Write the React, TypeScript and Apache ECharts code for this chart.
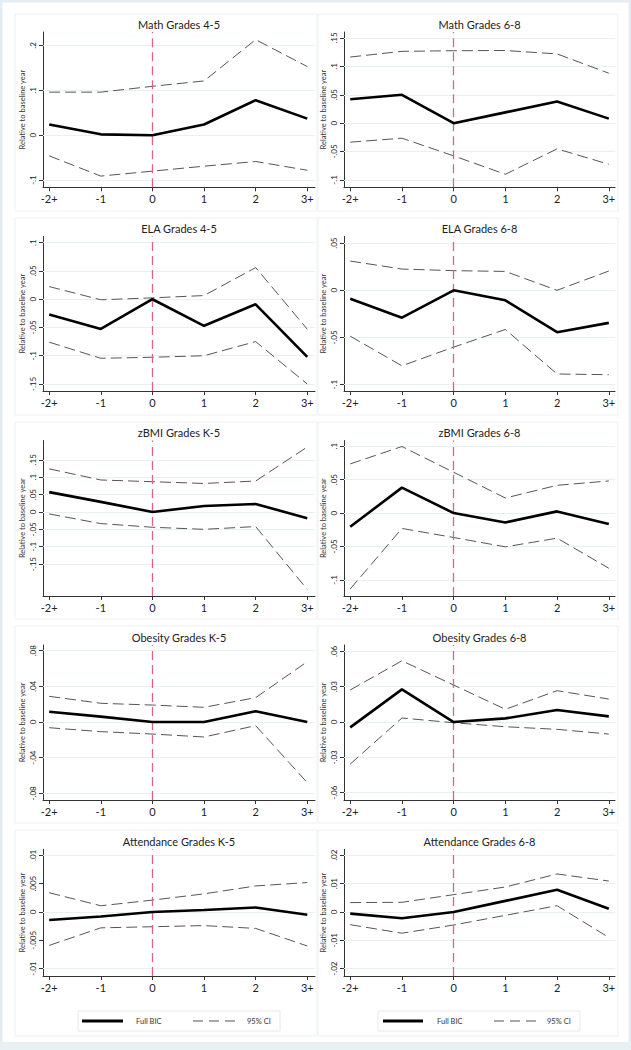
import React, { useEffect, useRef } from 'react';
import * as echarts from 'echarts';

const categories = ['-2+', '-1', '0', '1', '2', '3+'];
const baselineIndex = 2;

const titles = [
  'Math Grades 4-5', 'Math Grades 6-8',
  'ELA Grades 4-5', 'ELA Grades 6-8',
  'zBMI Grades K-5', 'zBMI Grades 6-8',
  'Obesity Grades K-5', 'Obesity Grades 6-8',
  'Attendance Grades K-5', 'Attendance Grades 6-8',
];

// Full BIC estimates
const mathG45Est = [0.024, 0.002, 0, 0.024, 0.078, 0.037];
const mathG68Est = [0.042, 0.05, 0, 0.019, 0.038, 0.008];
const elaG45Est = [-0.027, -0.0525, 0, -0.047, -0.009, -0.102];
const elaG68Est = [-0.009, -0.029, 0, -0.0106, -0.0444, -0.0345];
const zbmiK5Est = [0.057, 0.029, 0, 0.017, 0.023, -0.018];
const zbmiG68Est = [-0.0205, 0.038, 0, -0.014, 0.0025, -0.0165];
const obesK5Est = [0.0116, 0.006, 0, 0, 0.012, 0];
const obesG68Est = [-0.0045, 0.0277, 0, 0.0031, 0.0102, 0.0048];
const attK5Est = [-0.0014, -0.0008, 0, 0.00035, 0.0008, -0.0005];
const attG68Est = [-0.0006, -0.0022, 0, 0.0039, 0.0078, 0.0011];

// 95% CI upper bounds
const mathG45Hi = [0.096, 0.096, 0.109, 0.121, 0.213, 0.153];
const mathG68Hi = [0.1165, 0.1265, 0.1276, 0.128, 0.122, 0.088];
const elaG45Hi = [0.0224, -0.001, 0.0024, 0.0065, 0.056, -0.053];
const elaG68Hi = [0.031, 0.0225, 0.0208, 0.02, 0, 0.0204];
const zbmiK5Hi = [0.124, 0.092, 0.087, 0.082, 0.089, 0.187];
const zbmiG68Hi = [0.0735, 0.0995, 0.061, 0.0225, 0.0415, 0.048];
const obesK5Hi = [0.0288, 0.021, 0.019, 0.0165, 0.0273, 0.0677];
const obesG68Hi = [0.0272, 0.052, 0.0314, 0.0108, 0.0266, 0.0195];
const attK5Hi = [0.0034, 0.0011, 0.0021, 0.0032, 0.0046, 0.0052];
const attG68Hi = [0.0033, 0.0034, 0.0061, 0.0088, 0.0134, 0.0109];

// 95% CI lower bounds
const mathG45Lo = [-0.046, -0.091, -0.08, -0.069, -0.0585, -0.078];
const mathG68Lo = [-0.0335, -0.0265, -0.0576, -0.09, -0.0453, -0.0724];
const elaG45Lo = [-0.076, -0.1045, -0.1027, -0.1, -0.075, -0.15];
const elaG68Lo = [-0.0486, -0.08, -0.0602, -0.0415, -0.0887, -0.0894];
const zbmiK5Lo = [-0.0057, -0.0335, -0.044, -0.05, -0.042, -0.223];
const zbmiG68Lo = [-0.1135, -0.023, -0.0365, -0.0505, -0.0375, -0.0825];
const obesK5Lo = [-0.0064, -0.0108, -0.0135, -0.0168, -0.0041, -0.068];
const obesG68Lo = [-0.0357, 0.0034, -0.0006, -0.004, -0.0062, -0.0102];
const attK5Lo = [-0.0059, -0.0028, -0.0026, -0.0024, -0.0029, -0.006];
const attG68Lo = [-0.0045, -0.0075, -0.0046, -0.0012, 0.0022, -0.009];

// y-axis tick values
const mathG45Ticks = [-0.1, 0, 0.1, 0.2];
const mathG68Ticks = [-0.1, -0.05, 0, 0.05, 0.1, 0.15];
const elaG45Ticks = [-0.15, -0.1, -0.05, 0, 0.05, 0.1];
const elaG68Ticks = [-0.1, -0.05, 0, 0.05];
const zbmiK5Ticks = [-0.15, -0.1, -0.05, 0, 0.05, 0.1, 0.15];
const zbmiG68Ticks = [-0.1, -0.05, 0, 0.05, 0.1];
const obesK5Ticks = [-0.08, -0.04, 0, 0.04, 0.08];
const obesG68Ticks = [-0.06, -0.03, 0, 0.03, 0.06];
const attK5Ticks = [-0.01, -0.005, 0, 0.005, 0.01];
const attG68Ticks = [-0.02, -0.01, 0, 0.01, 0.02];

const estimates = [mathG45Est, mathG68Est, elaG45Est, elaG68Est, zbmiK5Est, zbmiG68Est, obesK5Est, obesG68Est, attK5Est, attG68Est];
const uppers = [mathG45Hi, mathG68Hi, elaG45Hi, elaG68Hi, zbmiK5Hi, zbmiG68Hi, obesK5Hi, obesG68Hi, attK5Hi, attG68Hi];
const lowers = [mathG45Lo, mathG68Lo, elaG45Lo, elaG68Lo, zbmiK5Lo, zbmiG68Lo, obesK5Lo, obesG68Lo, attK5Lo, attG68Lo];
const yTicks = [mathG45Ticks, mathG68Ticks, elaG45Ticks, elaG68Ticks, zbmiK5Ticks, zbmiG68Ticks, obesK5Ticks, obesG68Ticks, attK5Ticks, attG68Ticks];

const yTitle = 'Relative to baseline year';
const legendEst = 'Full BIC';
const legendCI = '95% CI';

// layout (not data)
const yRanges: [number, number][] = [
  [-0.116, 0.23], [-0.113, 0.1606],
  [-0.1624, 0.111], [-0.1067, 0.057],
  [-0.2418, 0.2056], [-0.124, 0.1085],
  [-0.0875, 0.0864], [-0.0662, 0.0654],
  [-0.0113, 0.01107], [-0.0226, 0.0221],
];
const rowTop = [32, 236.5, 440.5, 645, 849.3];
const rowBottom = [187.3, 391, 596, 800, 976];
const colLeft = [43, 344];
const colWidth = [272, 271];
const xMin = -0.12;
const xMax = [5.15, 5.12];

const FONT = 'Lato, "Open Sans", sans-serif';

function fmtTick(v: number): string {
  let s = String(Number(v.toPrecision(6)));
  s = s.replace(/^(-?)0\./, '$1.');
  return s;
}

export default function App() {
  const ref = useRef<HTMLDivElement>(null);
  useEffect(() => {
    document.body.style.margin = '0';
    if (!ref.current) return;
    const chart = echarts.init(ref.current, undefined, { renderer: 'svg' });

    const grids: any[] = [];
    const xAxes: any[] = [];
    const yAxes: any[] = [];
    const series: any[] = [];
    const graphics: any[] = [];

    // outer frame
    graphics.push({
      type: 'rect', shape: { x: 1, y: 1, width: 629, height: 1046 },
      style: { fill: 'none', stroke: '#e4edf2', lineWidth: 3 }, z: 0,
    });
    graphics.push({
      type: 'rect', shape: { x: 0, y: 1042, width: 631, height: 8 },
      style: { fill: '#e9f1f5' }, z: 0,
    });

    const boxTops = [14, 218, 422, 626, 830];
    const boxBottoms = [211, 415, 619, 823, 1036];
    const boxX = [[15, 317], [318, 618]];

    for (let i = 0; i < 10; i++) {
      const row = Math.floor(i / 2);
      const col = i % 2;
      const top = rowTop[row];
      const height = rowBottom[row] - rowTop[row];
      grids.push({ left: colLeft[col], top, width: colWidth[col], height, containLabel: false });

      graphics.push({
        type: 'rect',
        shape: { x: boxX[col][0], y: boxTops[row], width: boxX[col][1] - boxX[col][0], height: boxBottoms[row] - boxTops[row] },
        style: { fill: 'none', stroke: '#eef1f2', lineWidth: 1 }, z: 0,
      });
      graphics.push({
        type: 'text',
        x: colLeft[col] + colWidth[col] / 2,
        y: top - 8,
        style: { text: titles[i], font: `11px ${FONT}`, fill: '#222', textAlign: 'center', textVerticalAlign: 'middle' },
      });

      xAxes.push({
        type: 'value', gridIndex: i, min: xMin, max: xMax[col],
        axisLine: { show: true, onZero: false, lineStyle: { color: '#333', width: 1 } },
        axisTick: { show: true, length: 4, lineStyle: { color: '#333' }, customValues: [0, 1, 2, 3, 4, 5] },
        axisLabel: {
          show: true, margin: 6, fontSize: 11, color: '#222', fontFamily: FONT,
          customValues: [0, 1, 2, 3, 4, 5],
          formatter: (v: number) => categories[Math.round(v)] ?? '',
        },
        splitLine: { show: false },
      });
      yAxes.push({
        type: 'value', gridIndex: i, min: yRanges[i][0], max: yRanges[i][1],
        name: yTitle, nameLocation: 'middle', nameRotate: 90, nameGap: 17,
        nameTextStyle: { fontSize: 7.5, color: '#333', fontFamily: FONT },
        axisLine: { show: true, onZero: false, lineStyle: { color: '#333', width: 1 } },
        axisTick: { show: true, length: 4, lineStyle: { color: '#333' }, customValues: yTicks[i] },
        axisLabel: {
          show: true, rotate: 90, margin: 6, fontSize: 8, color: '#222', fontFamily: FONT,
          customValues: yTicks[i],
          formatter: (v: number) => fmtTick(v),
        },
        splitLine: { show: false },
      });

      series.push({
        type: 'line', xAxisIndex: i, yAxisIndex: i, name: legendCI,
        data: uppers[i].map((v, k) => [k, v]),
        symbol: 'none', z: 2,
        lineStyle: { color: '#555', width: 1, type: [11, 5] },
        markLine: {
          silent: true, symbol: 'none', label: { show: false }, z: 1,
          lineStyle: { color: '#e9f0f2', width: 1, type: 'solid' },
          data: yTicks[i].map((t) => ({ yAxis: t })),
        },
      });
      series.push({
        type: 'line', xAxisIndex: i, yAxisIndex: i, name: legendCI,
        data: lowers[i].map((v, k) => [k, v]),
        symbol: 'none', z: 3,
        lineStyle: { color: '#555', width: 1, type: [11, 5] },
        markLine: {
          silent: true, symbol: 'none', label: { show: false },
          lineStyle: { color: '#d8658c', width: 1.3, type: [9, 5] },
          data: [{ xAxis: baselineIndex }],
        },
      });
      series.push({
        type: 'line', xAxisIndex: i, yAxisIndex: i, name: legendEst,
        data: estimates[i].map((v, k) => [k, v]),
        symbol: 'none', z: 5,
        lineStyle: { color: '#000', width: 2.6 },
      });
    }

    // legends
    const legends = [
      { box: [78, 280], solid: [82, 123], t1: 136, dash: [193, 235], t2: 247 },
      { box: [378, 580], solid: [383, 423], t1: 437, dash: [494, 536], t2: 547 },
    ];
    for (const L of legends) {
      graphics.push({
        type: 'rect', shape: { x: L.box[0], y: 1011, width: L.box[1] - L.box[0], height: 20 },
        style: { fill: '#fff', stroke: '#e6e9ea', lineWidth: 1 },
      });
      graphics.push({
        type: 'line', shape: { x1: L.solid[0], y1: 1021, x2: L.solid[1], y2: 1021 },
        style: { stroke: '#000', lineWidth: 3 },
      });
      graphics.push({
        type: 'text', x: L.t1, y: 1021,
        style: { text: legendEst, font: `7.5px ${FONT}`, fill: '#333', textVerticalAlign: 'middle' },
      });
      graphics.push({
        type: 'line', shape: { x1: L.dash[0], y1: 1021, x2: L.dash[1], y2: 1021 },
        style: { stroke: '#555', lineWidth: 1, lineDash: [10, 6] },
      });
      graphics.push({
        type: 'text', x: L.t2, y: 1021,
        style: { text: legendCI, font: `7.5px ${FONT}`, fill: '#333', textVerticalAlign: 'middle' },
      });
    }

    chart.setOption({
      animation: false,
      backgroundColor: '#ffffff',
      textStyle: { fontFamily: FONT },
      grid: grids,
      xAxis: xAxes,
      yAxis: yAxes,
      series,
      graphic: graphics,
    });
    return () => chart.dispose();
  }, []);
  return <div ref={ref} style={{ width: 631, height: 1050 }} />;
}
